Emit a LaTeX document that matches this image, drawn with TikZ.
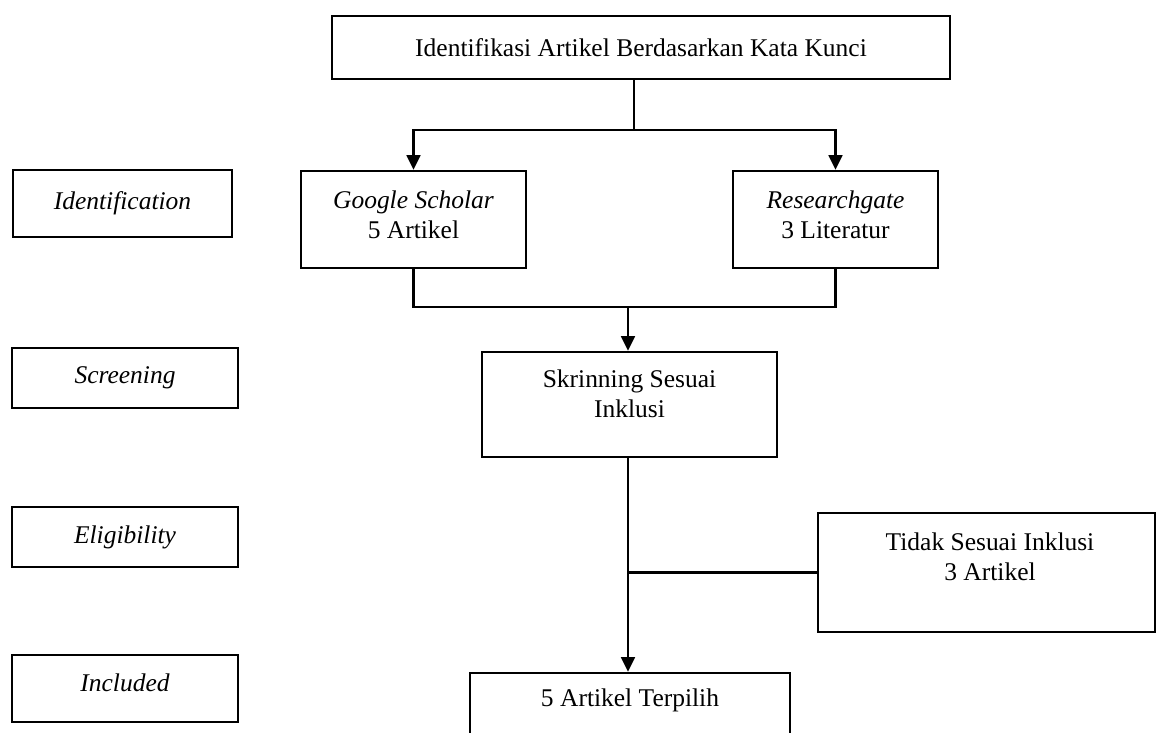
\documentclass[tikz,border=0pt]{standalone}
\usepackage{fontspec}
\setmainfont{Liberation Serif}
\usetikzlibrary{arrows.meta}
\begin{document}
\begin{tikzpicture}[x=.51pt,y=-.51pt,>={Triangle[length=7.5pt,width=7pt]},line width=1.2pt,font=\fontsize{13}{15.5}\selectfont]
                \def\u{.51pt}
                \tikzset{box/.style={draw,align=center,inner sep=0pt},
                    stage/.style={box,font=\fontsize{13}{15.5}\selectfont\itshape,minimum width=226*\u,minimum height=60*\u},
                    plain/.style={align=center,inner sep=0pt}}
                \useasboundingbox (0,0) rectangle (1159,733);
                \node[stage,minimum width=219*\u,minimum height=67*\u] (ident) at (122.5,203.5) {Identification};
                \node[stage] (screen) at (125,378) {Screening};
                \node[stage] (elig) at (125,537) {Eligibility};
                \node[stage,minimum height=67*\u] (incl) at (125,688.5) {};
                \node[plain,font=\fontsize{13}{15.5}\selectfont\itshape] (incl-txt) at (125,683) {Included};
                \node[box,minimum width=618*\u,minimum height=63*\u] (kunci) at (641,47.5) {Identifikasi Artikel Berdasarkan Kata Kunci};
                \node[box,minimum width=225*\u,minimum height=97*\u] (scholar) at (413.5,219.5) {};
                \node[plain] (scholar-txt) at (413.5,215) {\textit{Google Scholar}\\5 Artikel};
                \node[box,minimum width=205*\u,minimum height=97*\u] (research) at (835.5,219.5) {};
                \node[plain] (research-txt) at (835.5,215) {\textit{Researchgate}\\3 Literatur};
                \node[box,minimum width=295*\u,minimum height=105*\u] (skrin) at (629.5,404.5) {};
                \node[plain] (skrin-txt) at (629.5,394) {Skrinning Sesuai\\Inklusi};
                \node[box,minimum width=337*\u,minimum height=119*\u] (tidak) at (986.5,572.5) {};
                \node[plain] (tidak-txt) at (990,557) {Tidak Sesuai Inklusi\\3 Artikel};
                \node[box,minimum width=320*\u,minimum height=87*\u] (pilih) at (630,716.5) {};
                \node[plain] (pilih-txt) at (630,700) {5 Artikel Terpilih};
                \coordinate (split) at (634,130);
                \coordinate (merge) at (628,307);
                \draw (kunci.south -| split) -- (split);
                \draw[->] (split) -| (scholar.north);
                \draw[->] (split) -| (research.north);
                \draw (scholar.south) |- (merge) -| (research.south);
                \draw[->] (merge) -- (merge |- skrin.north);
                \draw[->] (skrin.south -| merge) -- (pilih.north -| merge);
                \draw (tidak.west -| merge) -- (tidak.west);
            \end{tikzpicture}
\end{document}
